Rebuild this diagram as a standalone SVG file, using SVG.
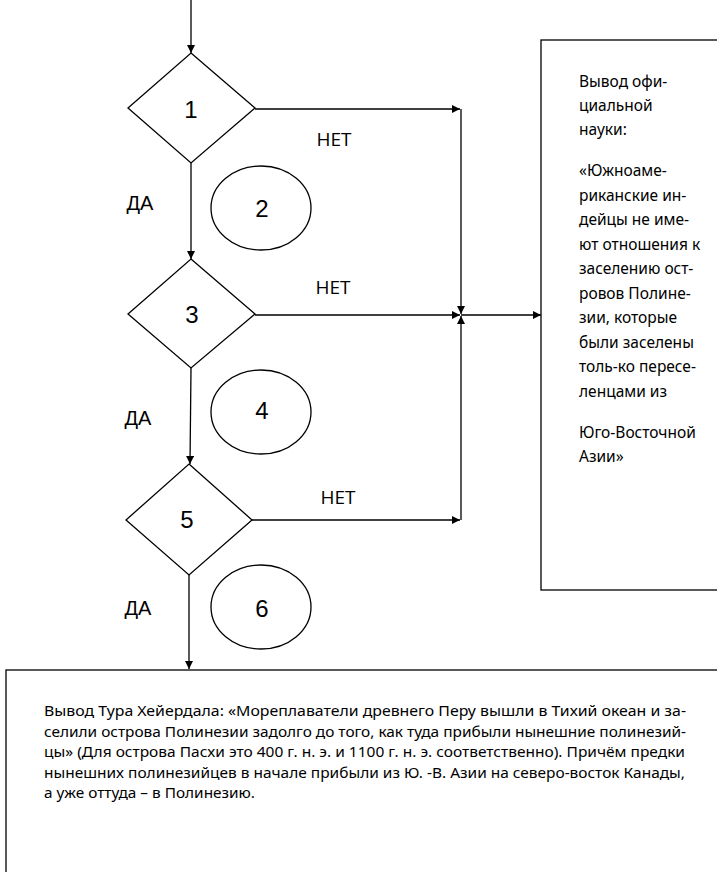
<svg xmlns="http://www.w3.org/2000/svg" width="717" height="872" viewBox="0 0 717 872">
<defs>
<marker id="ah" viewBox="0 0 10 10" refX="10" refY="5" markerWidth="10" markerHeight="8" markerUnits="userSpaceOnUse" orient="auto">
<path d="M0,0 L10,5 L0,10 Z" fill="#000"/>
</marker>
</defs>
<style>
.sh{fill:#fff;stroke:#000;stroke-width:1.3}
.ln{fill:none;stroke:#000;stroke-width:1.3}
.num{font-family:"Liberation Sans",Arial,sans-serif;font-size:24px;text-anchor:middle;fill:#000}
.lab{font-family:"Liberation Sans",Arial,sans-serif;font-size:20px;text-anchor:middle;fill:#000}
.net{font-family:"Open Sans","Noto Sans",sans-serif;font-size:19px;text-anchor:middle;fill:#000}
.bt{font-family:"Noto Sans","Open Sans",sans-serif;font-size:15.5px;fill:#000}
.ct{font-family:"Noto Sans","Open Sans",sans-serif;font-size:14.5px;fill:#000}
</style>
<rect width="717" height="872" fill="#fff"/>
<g id="connectors">
<line class="ln" x1="191" y1="0" x2="191" y2="53" marker-end="url(#ah)"/>
<line class="ln" x1="191" y1="163" x2="191" y2="259" marker-end="url(#ah)"/>
<line class="ln" x1="191" y1="368" x2="190" y2="464" marker-end="url(#ah)"/>
<line class="ln" x1="189" y1="575" x2="189" y2="669" marker-end="url(#ah)"/>
<line class="ln" x1="255" y1="109" x2="460" y2="109" marker-end="url(#ah)"/>
<line class="ln" x1="461" y1="109" x2="461" y2="314" marker-end="url(#ah)"/>
<line class="ln" x1="255" y1="315" x2="460" y2="315" marker-end="url(#ah)"/>
<line class="ln" x1="252" y1="520" x2="460" y2="520" marker-end="url(#ah)"/>
<line class="ln" x1="461" y1="520" x2="461" y2="316" marker-end="url(#ah)"/>
<line class="ln" x1="461" y1="315" x2="541" y2="315" marker-end="url(#ah)"/>
<text class="net" x="334" y="146">НЕТ</text>
<text class="net" x="333" y="294">НЕТ</text>
<text class="net" x="338" y="504">НЕТ</text>
<text class="lab" x="140" y="210">ДА</text>
<text class="lab" x="138" y="425">ДА</text>
<text class="lab" x="138" y="615">ДА</text>
</g>
<g id="d1"><polygon class="sh" points="191,53 255,108 191,163 128,108"/><text class="num" x="191" y="118">1</text></g>
<g id="e2"><ellipse class="sh" cx="261" cy="208" rx="50" ry="42"/><text class="num" x="262" y="217">2</text></g>
<g id="d3"><polygon class="sh" points="191,259 255,314 191,368 128,314"/><text class="num" x="192" y="323">3</text></g>
<g id="e4"><ellipse class="sh" cx="261" cy="412" rx="50" ry="42"/><text class="num" x="262" y="419">4</text></g>
<g id="d5"><polygon class="sh" points="189,464 252,520 189,575 126,520"/><text class="num" x="187" y="528">5</text></g>
<g id="e6"><ellipse class="sh" cx="261" cy="607" rx="50" ry="42"/><text class="num" x="262" y="617">6</text></g>
<g id="official">
<rect class="sh" x="541" y="40" width="200" height="550"/>
<text class="bt" x="579" y="87">Вывод офи-</text>
<text class="bt" x="579" y="111">циальной</text>
<text class="bt" x="579" y="135">науки:</text>
<text class="bt" x="579" y="176">«Южноаме-</text>
<text class="bt" x="579" y="200.5">риканские ин-</text>
<text class="bt" x="579" y="225">дейцы не име-</text>
<text class="bt" x="579" y="249.5">ют отношения к</text>
<text class="bt" x="579" y="274">заселению ост-</text>
<text class="bt" x="579" y="298.5">ровов Полине-</text>
<text class="bt" x="579" y="323">зии, которые</text>
<text class="bt" x="579" y="347.5">были заселены</text>
<text class="bt" x="579" y="372">толь-ко пересе-</text>
<text class="bt" x="579" y="396.5">ленцами из</text>
<text class="bt" x="579" y="438">Юго-Восточной</text>
<text class="bt" x="579" y="462">Азии»</text>
</g>
<g id="heyerdahl">
<rect class="sh" x="6" y="670" width="720" height="220"/>
<text class="ct" x="44" y="716" textLength="642" lengthAdjust="spacingAndGlyphs">Вывод Тура Хейердала: «Мореплаватели древнего Перу вышли в Тихий океан и за-</text>
<text class="ct" x="44" y="736.5" textLength="642" lengthAdjust="spacingAndGlyphs">селили острова Полинезии задолго до того, как туда прибыли нынешние полинезий-</text>
<text class="ct" x="44" y="757" textLength="641" lengthAdjust="spacingAndGlyphs">цы» (Для острова Пасхи это 400 г. н. э. и 1100 г. н. э. соответственно). Причём предки</text>
<text class="ct" x="44" y="777.5" textLength="641" lengthAdjust="spacingAndGlyphs">нынешних полинезийцев в начале прибыли из Ю. -В. Азии на северо-восток Канады,</text>
<text class="ct" x="44" y="798" textLength="211" lengthAdjust="spacingAndGlyphs">а уже оттуда – в Полинезию.</text>
</g>
</svg>
